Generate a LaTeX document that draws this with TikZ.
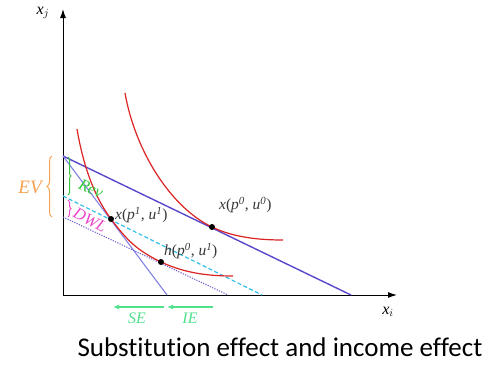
\documentclass[tikz,border=0pt]{standalone}
\usepackage{fontspec}
\setmainfont{Liberation Serif}
\newfontfamily\capfont[Ligatures={NoCommon}]{Carlito}
\usepackage{tikz}
\usetikzlibrary{arrows.meta, decorations.pathreplacing}

\definecolor{budgetblue}{RGB}{88,72,204}
\definecolor{steepblue}{RGB}{130,130,230}
\definecolor{cyanline}{RGB}{50,190,235}
\definecolor{dotpurple}{RGB}{105,90,210}
\definecolor{curvered}{RGB}{220,35,35}
\definecolor{evorange}{RGB}{245,160,80}
\definecolor{revgreen}{RGB}{50,200,60}
\definecolor{dwlpink}{RGB}{235,70,205}
\definecolor{effgreen}{RGB}{80,225,140}
\definecolor{labgray}{RGB}{55,55,55}

\tikzset{
	axisline/.style={line width=1pt, -{Latex[length=9pt,width=6pt]}},
	indiff/.style={curvered, line width=1.2pt},
	optdot/.style={circle, fill=black, inner sep=0pt, minimum size=6pt},
	ptlabel/.style={labgray, font=\fontsize{15.5}{18}\selectfont, inner sep=0pt, anchor=west},
	bracelabel/.style={font=\fontsize{16.5}{19}\selectfont\itshape, inner sep=0pt},
	effarrow/.style={effgreen, line width=1.2pt, -{Latex[length=6pt,width=5pt]}},
}

\begin{document}
\begin{tikzpicture}[x=1pt, y=-1pt]
\useasboundingbox (0,0) rectangle (496,372);

% Axes
\coordinate (O) at (63,295);
\coordinate (yTop) at (63,9);
\coordinate (xEnd) at (397,295);
\draw[axisline] (O) -- (yTop);
\draw[axisline] (O) -- (xEnd);
\node (xjLabel) at (43,13) {\fontsize{16}{18}\selectfont\textit{x}$_{j}$};
\node (xiLabel) at (388,312) {\fontsize{16}{18}\selectfont\textit{x}$_{i}$};

% Budget lines
\coordinate (bTop) at (63,156);
\coordinate (bMain) at (351,295);
\coordinate (bSteep) at (167,295);
\coordinate (cTop) at (63,196);
\coordinate (cEnd) at (262,295);
\coordinate (dTop) at (63,217);
\coordinate (dEnd) at (228,295);
\draw[budgetblue, line width=1.4pt] (bTop) -- (bMain);
\draw[steepblue, line width=1.1pt] (bTop) -- (bSteep);
\draw[cyanline, line width=1.2pt, dash pattern=on 4pt off 2.5pt] (cTop) -- (cEnd);
\draw[dotpurple, line width=1pt, dash pattern=on 1.2pt off 1.3pt] (dTop) -- (dEnd);

% Indifference curves
\coordinate (xOld) at (212,227);
\coordinate (xNew) at (111,219);
\coordinate (hOld) at (161,262);
\draw[indiff] (125,93) .. controls (135,150) and (170,207) .. (xOld)
	.. controls (234,237.7) and (260,240) .. (283,240);
\draw[indiff] (77,129) .. controls (84,170) and (96,199) .. (xNew)
	.. controls (126,239) and (136,250) .. (hOld)
	.. controls (186,273.7) and (210,276) .. (233,276);

% Optimal bundles
\node[optdot] (xOldDot) at (xOld) {};
\node[optdot] (xNewDot) at (xNew) {};
\node[optdot] (hOldDot) at (hOld) {};
\node[ptlabel] (xOldLab) at (219,205) {\textit{x}(\textit{p}$^{\mathit{0}}$, \textit{u}$^{\mathit{0}}$)};
\node[ptlabel] (xNewLab) at (115,215) {\textit{x}(\textit{p}$^{\mathit{1}}$, \textit{u}$^{\mathit{1}}$)};
\node[ptlabel] (hOldLab) at (164,251) {\textit{h}(\textit{p}$^{\mathit{0}}$, \textit{u}$^{\mathit{1}}$)};

% Braces for EV, revenue and DWL
\draw[evorange, line width=1pt, decorate, decoration={brace, amplitude=5pt}] (52,217) -- (52,156);
\node[bracelabel, evorange, font=\fontsize{19}{21}\selectfont\itshape] (evLab) at (30,187) {EV};
\draw[revgreen, line width=1pt, decorate, decoration={brace, amplitude=3pt}] (68,157) -- (68,195);
\node[bracelabel, revgreen, rotate=-25] (revLab) at (91,189) {Rev};
\draw[dwlpink, line width=1pt, decorate, decoration={brace, amplitude=3pt}] (68,200) -- (68,217);
\node[bracelabel, dwlpink, rotate=-28] (dwlLab) at (90,220) {DWL};

% Substitution and income effects
\coordinate (seR) at (164,307);
\coordinate (seL) at (113,307);
\coordinate (ieR) at (213,307);
\coordinate (ieL) at (167,307);
\draw[effarrow] (seR) -- (seL);
\draw[effarrow] (ieR) -- (ieL);
\node[bracelabel, effgreen, font=\fontsize{16}{18}\selectfont\itshape] (seLab) at (137,318) {SE};
\node[bracelabel, effgreen, font=\fontsize{16}{18}\selectfont\itshape] (ieLab) at (190,318) {IE};

% Caption
\node (caption) at (280,347) {\capfont\fontsize{27}{32}\selectfont Substitution effect and income effect};

\end{tikzpicture}
\end{document}
